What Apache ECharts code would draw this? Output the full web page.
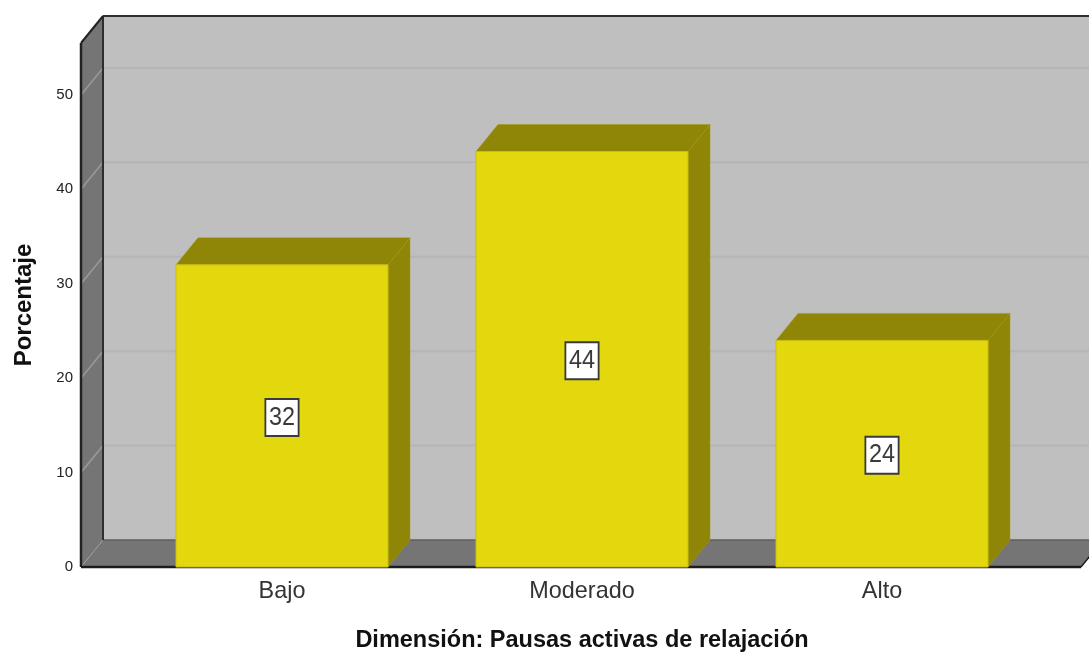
<!DOCTYPE html>
<html>
<head>
<meta charset="utf-8">
<style>html,body{margin:0;padding:0;background:#fff}#c{width:1089px;height:653px}</style>
<script src="https://cdn.jsdelivr.net/npm/echarts@6/dist/echarts.min.js"></script>
</head>
<body>
<div id="c"></div>
<script>
var categories = ['Bajo', 'Moderado', 'Alto'];
var percentages = [32, 44, 24];
var barLabels = ['32', '44', '24'];
var yTicks = [0, 10, 20, 30, 40, 50];
var yMax = 55.5;
var xAxisTitle = 'Dimensión: Pausas activas de relajación';
var yAxisTitle = 'Porcentaje';

var DX = 22, DY = -27, WALL_LEFT = 51, WALL_RIGHT = 49;
var FONT = '"Liberation Sans", Arial, sans-serif';

function poly(points, fill, stroke, lineWidth) {
  return { type: 'polygon', shape: { points: points },
    style: { fill: fill, stroke: stroke || null, lineWidth: lineWidth || 0 } };
}
function seg(a, b, color, w) {
  return { type: 'line', shape: { x1: a[0], y1: a[1], x2: b[0], y2: b[1] },
    style: { stroke: color, lineWidth: w, fill: null } };
}

function renderWalls(params, api) {
  var cs = params.coordSys;
  var l = cs.x - WALL_LEFT, r = cs.x + cs.width + WALL_RIGHT;
  var t = cs.y, b = cs.y + cs.height;
  var kids = [
    poly([[l + DX, t + DY], [r + DX, t + DY], [r + DX, b + DY], [l + DX, b + DY]], '#bfbfbf'),
    poly([[l, t], [l + DX, t + DY], [l + DX, b + DY], [l, b]], '#757575'),
    poly([[l, b], [l + DX, b + DY], [r + DX, b + DY], [r, b]], '#757575')
  ];
  yTicks.forEach(function (v) {
    var y = api.coord([0, v])[1];
    if (v > 0) kids.push(seg([l + DX, y + DY], [r + DX, y + DY], '#b5b5b5', 2));
    kids.push(seg([l, y], [l + DX, y + DY], '#9a9a9a', v > 0 ? 1.5 : 1));
  });
  kids.push(
    seg([l + DX, b + DY], [r + DX, b + DY], '#5e5e5e', 1.5),
    seg([l + DX, t + DY], [l + DX, b + DY], '#2e2e2e', 2),
    seg([l + DX, t + DY], [r + DX, t + DY], '#2e2e2e', 2),
    seg([l, t], [l + DX, t + DY], '#222222', 2),
    seg([l, t], [l, b], '#222222', 2.5),
    seg([l, b], [r, b], '#1c1c1c', 2.5),
    seg([r, b], [r + DX, b + DY], '#1c1c1c', 1.5)
  );
  return { type: 'group', children: kids };
}

function renderBar(params, api) {
  var idx = api.value(0), val = api.value(1);
  var p = api.coord([idx, val]), base = api.coord([idx, 0]);
  var w = api.size([1, 0])[0] * 0.7067;
  var x0 = p[0] - w / 2, x1 = p[0] + w / 2;
  var top = p[1], bot = base[1];
  var side = '#8f8506', edge = '#a59b08';
  return { type: 'group', children: [
    poly([[x1, top], [x1 + DX, top + DY], [x1 + DX, bot + DY], [x1, bot]], side, edge, 0.5),
    poly([[x0, top], [x0 + DX, top + DY], [x1 + DX, top + DY], [x1, top]], side, edge, 0.5),
    { type: 'rect', shape: { x: x0, y: top, width: w, height: bot - top },
      style: { fill: '#e3d70d', stroke: '#c9be0b', lineWidth: 1 } },
    { type: 'text', x: p[0], y: (top + bot) / 2 + 1.5, scaleX: 0.9,
      style: { text: barLabels[params.dataIndex], font: '26px ' + FONT, fill: '#3a3a3a',
        align: 'center', verticalAlign: 'middle', backgroundColor: '#ffffff',
        borderColor: '#3a3a3a', borderWidth: 2, padding: [5, 3, 4, 3] } }
  ] };
}

var chart = echarts.init(document.getElementById('c'), null, { renderer: 'canvas' });
chart.setOption({
  animation: false,
  backgroundColor: '#ffffff',
  grid: { left: 132, width: 900, top: 43, bottom: 86, containLabel: false, outerBoundsMode: 'none' },
  xAxis: {
    type: 'category', data: categories,
    axisLine: { show: false }, axisTick: { show: false },
    axisLabel: { fontFamily: FONT, fontSize: 23.4, color: '#333333', margin: 13 },
    name: xAxisTitle, nameLocation: 'middle', nameGap: 62,
    nameTextStyle: { fontFamily: FONT, fontSize: 23.5, fontWeight: 'bold', color: '#111111' }
  },
  yAxis: {
    type: 'value', min: 0, max: yMax, offset: WALL_LEFT,
    axisLine: { show: false }, axisTick: { show: false }, splitLine: { show: false },
    axisLabel: { customValues: yTicks, fontFamily: FONT, fontSize: 15, color: '#222222', margin: 8 },
    name: yAxisTitle, nameLocation: 'middle', nameGap: 45,
    nameTextStyle: { fontFamily: FONT, fontSize: 24, fontWeight: 'bold', color: '#111111' }
  },
  series: [
    { type: 'custom', silent: true, z: 1, renderItem: renderWalls, data: [[0, 0]], encode: { x: 0, y: 1 } },
    { type: 'custom', silent: true, z: 2, renderItem: renderBar,
      data: percentages.map(function (v, i) { return [i, v]; }), encode: { x: 0, y: 1 } }
  ]
});
</script>
</body>
</html>
